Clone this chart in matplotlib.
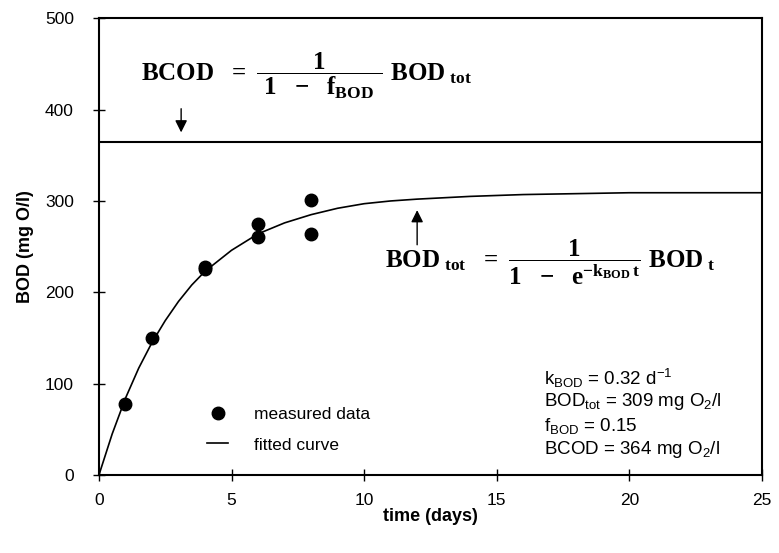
import numpy as np
import matplotlib
matplotlib.use("Agg")
import matplotlib.pyplot as plt

# measured BOD data (days, mg O2/l)
t_meas = [1, 2, 4, 4, 6, 6, 8, 8]
bod_meas = [78, 150, 228, 226, 275, 261, 301, 264]

# fitted curve
t_fit = [0, 0.5, 1, 1.5, 2, 2.5, 3, 3.5, 4, 5, 6, 7, 8, 9, 10, 11, 12, 14, 16, 18, 20, 22, 25]
bod_fit = [0, 45, 84, 117, 145, 169, 190, 208, 223, 246, 264, 276, 285, 292, 297, 300, 302, 305, 307, 308, 309, 309, 309]

bcod = 364
param_lines = [r"k$_{\rm BOD}$ = 0.32 d$^{-1}$",
               r"BOD$_{\rm tot}$ = 309 mg O$_2$/l",
               r"f$_{\rm BOD}$ = 0.15",
               r"BCOD = 364 mg O$_2$/l"]

plt.rcParams["font.family"] = ["Liberation Sans", "DejaVu Sans"]
plt.rcParams["mathtext.fontset"] = "custom"
plt.rcParams["mathtext.rm"] = "Liberation Sans"
plt.rcParams["mathtext.it"] = "Liberation Sans"
plt.rcParams["mathtext.bf"] = "Liberation Serif:bold"

fig = plt.figure(figsize=(7.79, 5.53), dpi=100)
ax = fig.add_axes([0.127, 0.141, 0.851, 0.826])

ax.plot(t_fit, bod_fit, color="black", lw=1.2, label="fitted curve")
ax.plot(t_meas, bod_meas, "o", color="black", ms=9, label="measured data")
ax.axhline(bcod, color="black", lw=1.5)

ax.set_xlim(0, 25)
ax.set_ylim(0, 500)
ax.set_xticks([0, 5, 10, 15, 20, 25])
ax.set_yticks([0, 100, 200, 300, 400, 500])
ax.tick_params(direction="inout", length=8, width=1, labelsize=12.5)
ax.tick_params(axis="y", pad=14)
ax.tick_params(axis="x", pad=9)
for s in ax.spines.values():
    s.set_linewidth(1.5)

ax.set_xlabel("time (days)", fontsize=13, fontweight="bold", labelpad=0)
ax.set_ylabel("BOD (mg O/l)", fontsize=13, fontweight="bold", labelpad=8)

# equations
eq_bcod = (r"$\mathbf{BCOD\ \ =\ }\dfrac{\mathbf{1}}{\mathbf{\ 1\ \ -\ \ f_{BOD}\ }}"
           r"\mathbf{\ BOD_{\ tot}}$")
ax.text(1.6, 437, eq_bcod, fontsize=18, ha="left", va="center")
eq_tot = (r"$\mathbf{BOD_{\ tot}\ \ =\ }\dfrac{\mathbf{1}}{\mathbf{1\ \ -\ \ e^{-k_{BOD}\,t}}}"
          r"\mathbf{\ BOD_{\ t}}$")
ax.text(10.8, 233, eq_tot, fontsize=18, ha="left", va="center")

ax.annotate("", xy=(3.1, 372), xytext=(3.1, 404),
            arrowprops=dict(arrowstyle="-|>", color="black", lw=1, mutation_scale=18))
ax.annotate("", xy=(12.0, 293), xytext=(12.0, 249),
            arrowprops=dict(arrowstyle="-|>", color="black", lw=1, mutation_scale=18))

# parameters
for i, line in enumerate(param_lines):
    ax.text(16.8, 106 - i * 26, line, fontsize=13.5, ha="left", va="center")

handles, labels = ax.get_legend_handles_labels()
ax.legend(handles[::-1], labels[::-1], frameon=False, fontsize=12.5,
          loc="lower left", bbox_to_anchor=(0.14, 0.015), handlelength=1.2,
          labelspacing=0.9, handletextpad=1.5)

fig.savefig("out.png", dpi=100)
